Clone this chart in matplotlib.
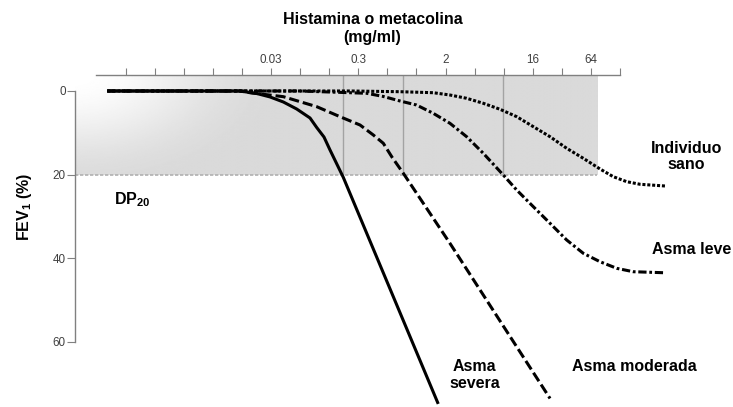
import numpy as np
import matplotlib
matplotlib.use("Agg")
import matplotlib.pyplot as plt

# dosis de histamina/metacolina (mg/ml) y caida del FEV1 (%)
severa_dosis = [0.000624, 0.0147, 0.0221, 0.0304, 0.0417, 0.0573, 0.0788, 0.0925, 0.110,
                0.127, 0.174, 1.68]
severa_caida = [0, 0, 0.6, 1.43, 2.63, 4.30, 6.45, 8.73, 11.0, 14.1, 20.6, 74.8]

moderada_dosis = [0.000624, 0.0147, 0.0188, 0.0417, 0.0925, 0.161, 0.260, 0.357, 0.453,
                  0.557, 0.730, 2.22, 24.2]
moderada_caida = [0, 0, 0.41, 1.36, 3.75, 6.14, 8.13, 10.52, 12.5, 15.8, 19.67, 36.4, 73.5]

leve_dosis = [0.000624, 0.062, 0.305, 0.453, 0.675, 1.00, 1.49, 2.22, 3.31, 4.92, 7.93,
              10.92, 16.24, 24.2, 36.0, 53.5, 79.7, 118.8, 176, 361]
leve_caida = [0, 0, 0.55, 1.31, 2.39, 3.35, 5.33, 7.72, 10.93, 14.89, 20.08, 23.67, 27.66,
              31.63, 35.62, 38.8, 40.81, 42.39, 43.2, 43.44]

sano_dosis = [0.000624, 0.204, 0.675, 1.49, 2.22, 3.31, 4.92, 7.33, 10.92, 16.24, 24.2,
              36.0, 53.5, 79.7, 109.5, 150.7, 207, 376]
sano_caida = [0, 0, 0.17, 0.41, 0.96, 1.75, 2.94, 4.37, 6.14, 8.53, 10.93, 13.70, 16.09,
              18.64, 20.49, 21.68, 22.3, 22.71]

# DP20 de cada curva (severa, moderada, leve, sano) y umbral de caida
pd20 = [0.172, 0.719, 7.93, 74.8]
umbral = 20

tick_dosis = [2.0 ** k for k in range(-10, 8)]
tick_etiquetas = ['', '', '', '', '', '0.03', '', '', '0.3', '', '', '2', '', '', '16', '', '64', '']
y_ticks = [0, 20, 40, 60]

plt.rcParams['font.family'] = ['Liberation Sans', 'DejaVu Sans']
plt.rcParams['mathtext.fontset'] = 'custom'
plt.rcParams['mathtext.rm'] = 'Liberation Sans'
plt.rcParams['mathtext.bf'] = 'Liberation Sans:bold'

fig = plt.figure(figsize=(7.33, 4.07), dpi=100)
ax = fig.add_axes([0, 0, 1, 1])

izq = -11.756   # posicion del eje vertical (log2 dosis)
tope = -3.82    # posicion del eje superior (FEV1)
gris = 0.855

# zona sombreada con degradado blanco en la esquina
x_der = np.log2(pd20[-1])
gx = np.linspace(izq, x_der, 400)
gy = np.linspace(tope, umbral, 120)
XX, YY = np.meshgrid(gx, gy)
t = np.clip(np.hypot((XX - izq) / 6.9, (YY - tope) / 27.0), 0, 1)
s = t * t * (3 - 2 * t)
img = 1 - (1 - gris) * s
ax.imshow(img, extent=(izq, x_der, umbral, tope), cmap='gray', vmin=0, vmax=1,
          aspect='auto', interpolation='bilinear', zorder=0)

ax.vlines(np.log2(pd20[:3]), tope, umbral, colors='#a3a3a3', lw=1, zorder=1)
ax.hlines(umbral, izq, x_der, colors='#b0b0b0', lw=1.2, linestyles=(0, (2, 1)), zorder=1)

ax.plot(np.log2(sano_dosis), sano_caida, color='black', lw=2.2,
        linestyle=(0, (1, 0.6)), dash_capstyle='butt', zorder=3)
ax.plot(np.log2(leve_dosis), leve_caida, color='black', lw=2.2,
        linestyle=(0, (2.7, 0.9, 0.9, 0.9)), dash_capstyle='butt', zorder=3)
ax.plot(np.log2(moderada_dosis), moderada_caida, color='black', lw=2.2,
        linestyle=(0, (3.3, 1.3)), dash_capstyle='butt', zorder=3)
ax.plot(np.log2(severa_dosis), severa_caida, color='black', lw=2.2,
        solid_capstyle='butt', solid_joinstyle='round', zorder=4)

ax.set_xlim(-14.337, 10.895)
ax.set_ylim(75.54, -21.75)

for lado in ['right', 'bottom']:
    ax.spines[lado].set_visible(False)
ax.spines['top'].set_position(('data', tope))
ax.spines['top'].set_bounds(-11.03, 7)
ax.spines['left'].set_position(('data', izq))
ax.spines['left'].set_bounds(0, 60)
for lado in ['top', 'left']:
    ax.spines[lado].set_color('#808080')
    ax.spines[lado].set_linewidth(1)

ax.xaxis.set_ticks_position('top')
ax.set_xticks(np.log2(tick_dosis))
ax.set_xticklabels(tick_etiquetas)
ax.tick_params(axis='x', direction='out', length=4.8, width=0.8, color='#808080',
               labelsize=8.4, labelcolor='#404040', pad=2)
ax.set_yticks(y_ticks)
ax.tick_params(axis='y', direction='out', length=5.8, width=0.8, color='#808080',
               labelsize=8.4, labelcolor='#404040', pad=1)

negrita = dict(fontsize=11.5, fontweight='bold', color='black')
ax.text(-1.49, -15.95, 'Histamina o metacolina', ha='center', va='baseline', **negrita)
ax.text(-1.52, -11.6, '(mg/ml)', ha='center', va='baseline', **negrita)
ax.text(9.28, 14.75, 'Individuo', ha='center', va='baseline', **negrita)
ax.text(9.27, 18.72, 'sano', ha='center', va='baseline', **negrita)
ax.text(9.48, 39.04, 'Asma leve', ha='center', va='baseline', **negrita)
ax.text(2.01, 66.94, 'Asma', ha='center', va='baseline', **negrita)
ax.text(2.01, 70.88, 'severa', ha='center', va='baseline', **negrita)
ax.text(5.34, 66.94, 'Asma moderada', ha='left', va='baseline', **negrita)
ax.text(-10.41, 27.1, r'DP$_{\mathbf{20}}$', ha='left', va='baseline', **negrita)
ax.text(-13.51, 27.7, r'FEV$_{\mathbf{1}}$ (%)', ha='center', va='center',
        rotation=90, **negrita)

fig.savefig('out.png', dpi=100)
